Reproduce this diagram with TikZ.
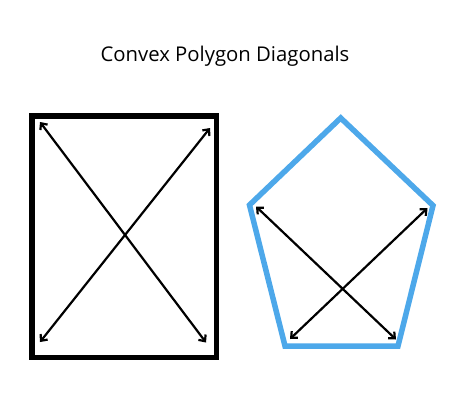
\documentclass[tikz,border=0pt]{standalone}
\usepackage{fontspec}
\setmainfont{Open Sans}
\usetikzlibrary{arrows.meta}
\definecolor{pentblue}{RGB}{77,168,234}
\begin{document}
\begin{tikzpicture}[x=1pt,y=-1pt,
  diag/.style={line width=2.2pt,{Straight Barb[length=5pt,width=9pt]}-{Straight Barb[length=5pt,width=9pt]}},
  frame/.style={line width=5.5pt}]
\useasboundingbox (0,0) rectangle (450,400);
\node[anchor=base,font=\fontsize{20.3}{24}\selectfont] (title) at (225,61) {Convex Polygon Diagonals};
% rectangle
\coordinate (R1) at (32,116);
\coordinate (R2) at (216.5,357.5);
\draw[frame,black] (R1) rectangle (R2);
\coordinate (a1) at (40,122);
\coordinate (a2) at (206,342.5);
\coordinate (a3) at (210,128);
\coordinate (a4) at (40,342);
\draw[diag] (a1) -- (a2);
\draw[diag] (a3) -- (a4);
% pentagon
\coordinate (P1) at (340.7,118);
\coordinate (P2) at (433,205.5);
\coordinate (P3) at (398,346);
\coordinate (P4) at (285,346);
\coordinate (P5) at (249.5,205);
\draw[frame,pentblue] (P1) -- (P2) -- (P3) -- (P4) -- (P5) -- cycle;
\coordinate (b1) at (256,206.5);
\coordinate (b2) at (396,339.5);
\coordinate (b3) at (427.5,208);
\coordinate (b4) at (290,339);
\draw[diag] (b1) -- (b2);
\draw[diag] (b3) -- (b4);
\end{tikzpicture}
\end{document}
